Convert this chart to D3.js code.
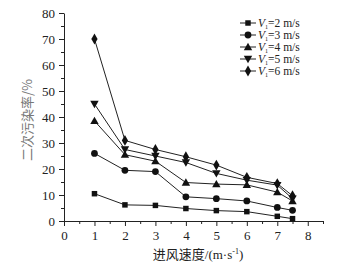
<!DOCTYPE html>
<html lang="zh">
<meta charset="utf-8">
<head>
    <script src="https://d3js.org/d3.v7.min.js"></script>
    <style>
        body { margin: 0; background: #fff; }
        text { font-family: "Liberation Serif", "DejaVu Serif", serif; }
    </style>
</head>
<body>
<script>
    // data
    var speeds = [1, 2, 3, 4, 5, 6, 7, 7.5];
    var v2 = [10.5, 6.2, 6.0, 4.8, 4.0, 3.6, 1.8, 0.9];
    var v3 = [26, 19.5, 19, 9.3, 8.6, 7.7, 5.2, 4.1];
    var v4 = [38.5, 25.5, 23, 14.8, 14.2, 13.9, 11.1, 7.7];
    var v5 = [45, 27.5, 25, 22.5, 18.3, 15.7, 13.8, 8.6];
    var v6 = [70, 31, 27.5, 24.7, 21.5, 16.8, 14.4, 9.7];
    var seriesNames = ["2", "3", "4", "5", "6"];
    var xTicks = [0, 1, 2, 3, 4, 5, 6, 7, 8];
    var yTicks = [0, 10, 20, 30, 40, 50, 60, 70, 80];

    var series = [
        {name: seriesNames[0], vals: v2, sym: d3.symbolSquare},
        {name: seriesNames[1], vals: v3, sym: d3.symbolCircle},
        {name: seriesNames[2], vals: v4, sym: "up"},
        {name: seriesNames[3], vals: v5, sym: "down"},
        {name: seriesNames[4], vals: v6, sym: d3.symbolDiamond}
    ];

    var svg = d3.select("body").append("svg")
        .attr("width", 353)
        .attr("height", 270);

    var x = d3.scaleLinear().domain([0, 8.5]).range([64, 323]);
    var y = d3.scaleLinear().domain([0, 80]).range([221, 13]);

    // minor ticks
    svg.append("g")
        .attr("transform", "translate(0,221)")
        .call(d3.axisBottom(x).tickValues(d3.range(0.5, 8.6, 1)).tickSize(3).tickFormat(""))
        .call(function(g) { g.select(".domain").remove(); });
    svg.append("g")
        .attr("transform", "translate(64,0)")
        .call(d3.axisLeft(y).tickValues(d3.range(5, 80, 10)).tickSize(3).tickFormat(""))
        .call(function(g) { g.select(".domain").remove(); });

    svg.append("g")
        .attr("transform", "translate(0,221)")
        .call(d3.axisBottom(x).tickValues(xTicks).tickSize(5).tickSizeOuter(0).tickPadding(5));
    svg.append("g")
        .attr("transform", "translate(64,0)")
        .call(d3.axisLeft(y).tickValues(yTicks).tickSize(5).tickSizeOuter(0).tickPadding(4));
    svg.selectAll(".tick text").attr("font-size", 13).attr("font-family", "Liberation Serif").attr("fill", "#222");
    svg.selectAll(".domain, .tick line").attr("stroke", "#222");

    function tri(dir, cx, cy) {
        var s = 4.2;
        if (dir == "up") return "M" + cx + "," + (cy - s) + "L" + (cx + s) + "," + (cy + s * 0.75) + "L" + (cx - s) + "," + (cy + s * 0.75) + "Z";
        return "M" + cx + "," + (cy + s) + "L" + (cx + s) + "," + (cy - s * 0.75) + "L" + (cx - s) + "," + (cy - s * 0.75) + "Z";
    }

    function drawMarker(sym, cx, cy) {
        if (sym == "up" || sym == "down") {
            svg.append("path").attr("d", tri(sym, cx, cy)).attr("fill", "#111");
        } else {
            var size = sym == d3.symbolCircle ? 36 : (sym == d3.symbolDiamond ? 34 : 30);
            svg.append("path")
                .attr("d", d3.symbol().type(sym).size(size)())
                .attr("transform", "translate(" + cx + "," + cy + ")")
                .attr("fill", "#111");
        }
    }

    var line = d3.line()
        .x(function(d, i) { return x(speeds[i]); })
        .y(function(d) { return y(d); });

    series.forEach(function(s) {
        svg.append("path")
            .attr("d", line(s.vals))
            .attr("fill", "none")
            .attr("stroke", "#222")
            .attr("stroke-width", 1);
        s.vals.forEach(function(v, i) {
            drawMarker(s.sym, x(speeds[i]), y(v));
        });
    });

    // legend
    series.forEach(function(s, i) {
        var ly = 23 + i * 12;
        svg.append("line")
            .attr("x1", 240).attr("x2", 256)
            .attr("y1", ly).attr("y2", ly)
            .attr("stroke", "#222");
        drawMarker(s.sym, 248, ly);
        var t = svg.append("text")
            .attr("x", 258).attr("y", ly + 4)
            .attr("font-size", 11.5)
            .attr("fill", "#222");
        t.append("tspan").attr("font-style", "italic").text("V");
        t.append("tspan").attr("font-size", 6).attr("dy", 1.5).text("1");
        t.append("tspan").attr("dy", -1.5).text("=" + s.name + " m/s");
    });

    // axis titles
    svg.append("text")
        .attr("transform", "translate(32,120) rotate(-90)")
        .attr("text-anchor", "middle")
        .attr("font-size", 13)
        .attr("fill", "#777")
        .style("font-family", "'Noto Sans CJK SC'")
        .text("二次污染率/%");

    var xt = svg.append("text")
        .attr("x", 198).attr("y", 259)
        .attr("text-anchor", "middle")
        .attr("font-size", 13)
        .attr("fill", "#222");
    xt.append("tspan").style("font-family", "'Noto Sans CJK SC'").text("进风速度");
    xt.append("tspan").text("/(m·s");
    xt.append("tspan").attr("font-size", 8).attr("dy", -5).text("-1");
    xt.append("tspan").attr("dy", 5).text(")");
</script>
</body>
</html>
